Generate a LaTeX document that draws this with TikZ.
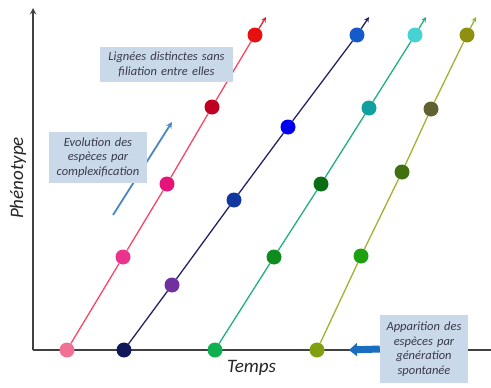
\documentclass[tikz,border=0pt]{standalone}
\usepackage{fontspec}
\setmainfont{Carlito}
\usepackage{tikz}
\usetikzlibrary{arrows, arrows.meta}

\definecolor{axisgray}{HTML}{404040}
\definecolor{boxblue}{HTML}{C9D9EA}
\definecolor{boxtext}{HTML}{3A3A4A}
\definecolor{arrowblue}{HTML}{1A6EC0}
\definecolor{steelblue}{HTML}{4A86C0}

\begin{document}
\begin{tikzpicture}[x=1pt,y=-1pt]

\tikzstyle{dot} = [circle, inner sep=0pt, minimum size=15pt]
\tikzstyle{infobox} = [rectangle, fill=boxblue, text=boxtext, align=center, font=\fontsize{12.5}{14.5}\selectfont\itshape, inner xsep=0pt, inner ysep=2pt]
\tikzstyle{lineage} = [line width=1.3pt]
\tikzstyle{arrow} = [line width=1.3pt,->,>=stealth]
\tikzstyle{axislabel} = [font=\fontsize{19}{21}\selectfont\itshape, text=black!85]

\useasboundingbox (0,0) rectangle (491,388);

% axes
\coordinate (O) at (33,350);
\coordinate (ytop) at (33,8);
\coordinate (xend) at (491,350);
\draw [line width=1.8pt, axisgray, ->, >=stealth] (O) -- (ytop);
\draw [line width=1.8pt, axisgray] (O) -- (xend);
\node (phen) [axislabel, rotate=90] at (18,178) {Phénotype};
\node (temps) [axislabel, anchor=base west, inner sep=0pt] at (227,372) {Temps};

% lignee 1
\node (a1) [dot, fill={rgb,255:red,240;green,112;blue,150}] at (67,350) {};
\node (a2) [dot, fill={rgb,255:red,235;green,50;blue,140}] at (123,257) {};
\node (a3) [dot, fill={rgb,255:red,228;green,20;blue,120}] at (167,184) {};
\node (a4) [dot, fill={rgb,255:red,192;green,0;blue,32}] at (212,107) {};
\node (a5) [dot, fill={rgb,255:red,230;green,16;blue,16}] at (255,35) {};
\coordinate (a6) at (266,17);
\draw [lineage, color={rgb,255:red,250;green,70;blue,100}] (a1) -- (a2) -- (a3) -- (a4) -- (a5);
\draw [arrow, color={rgb,255:red,230;green,30;blue,50}] (a5) -- (a6);

% lignee 2
\node (b1) [dot, fill={rgb,255:red,16;green,24;blue,90}] at (124,350) {};
\node (b2) [dot, fill={rgb,255:red,112;green,48;blue,160}] at (172,285) {};
\node (b3) [dot, fill={rgb,255:red,16;green,56;blue,160}] at (234,200) {};
\node (b4) [dot, fill={rgb,255:red,0;green,0;blue,240}] at (288,127) {};
\node (b5) [dot, fill={rgb,255:red,20;green,90;blue,200}] at (357,35) {};
\coordinate (b6) at (369,17);
\draw [lineage, color={rgb,255:red,35;green,35;blue,100}] (b1) -- (b2) -- (b3) -- (b4) -- (b5);
\draw [arrow, color={rgb,255:red,35;green,35;blue,100}] (b5) -- (b6);

% lignee 3
\node (c1) [dot, fill={rgb,255:red,16;green,176;blue,80}] at (215,350) {};
\node (c2) [dot, fill={rgb,255:red,16;green,140;blue,30}] at (274,257) {};
\node (c3) [dot, fill={rgb,255:red,10;green,110;blue,20}] at (321,184) {};
\node (c4) [dot, fill={rgb,255:red,16;green,160;blue,160}] at (369,108) {};
\node (c5) [dot, fill={rgb,255:red,70;green,210;blue,210}] at (415,35) {};
\coordinate (c6) at (426,17);
\draw [lineage, color={rgb,255:red,30;green,176;blue,128}] (c1) -- (c2) -- (c3) -- (c4) -- (c5);
\draw [arrow, color={rgb,255:red,30;green,176;blue,128}] (c5) -- (c6);

% lignee 4
\node (d1) [dot, fill={rgb,255:red,128;green,160;blue,16}] at (317,350) {};
\node (d2) [dot, fill={rgb,255:red,30;green,160;blue,16}] at (361,256) {};
\node (d3) [dot, fill={rgb,255:red,64;green,112;blue,16}] at (402,172) {};
\node (d4) [dot, fill={rgb,255:red,96;green,96;blue,48}] at (431,109) {};
\node (d5) [dot, fill={rgb,255:red,144;green,144;blue,16}] at (467,35) {};
\coordinate (d6) at (476,17);
\draw [lineage, color={rgb,255:red,165;green,176;blue,50}] (d1) -- (d2) -- (d3) -- (d4) -- (d5);
\draw [arrow, color={rgb,255:red,140;green,180;blue,50}] (d5) -- (d6);

% evolution arrow (behind box)
\coordinate (e1) at (113,215);
\coordinate (e2) at (172,122);
\draw [arrow, steelblue, line width=1.8pt] (e1) -- (e2);

% boxes
\node (lignees) [infobox, text width=133pt, minimum height=35pt] at (166.5,64.5) {Lignées distinctes sans\\filiation entre elles};
\node (evol) [infobox, text width=98pt, minimum height=51pt] at (98,157.5) {Evolution des\\espèces par\\complexification};
\node (appar) [infobox, text width=88pt, minimum height=68pt] at (424,349) {Apparition des\\espèces par\\génération\\spontanée};

% spontaneous generation arrow
\coordinate (g2) at (349,350);
\draw [line width=7pt, arrowblue, -{Triangle[length=8pt,width=13pt]}] (appar.west) -- (g2);

\end{tikzpicture}
\end{document}
